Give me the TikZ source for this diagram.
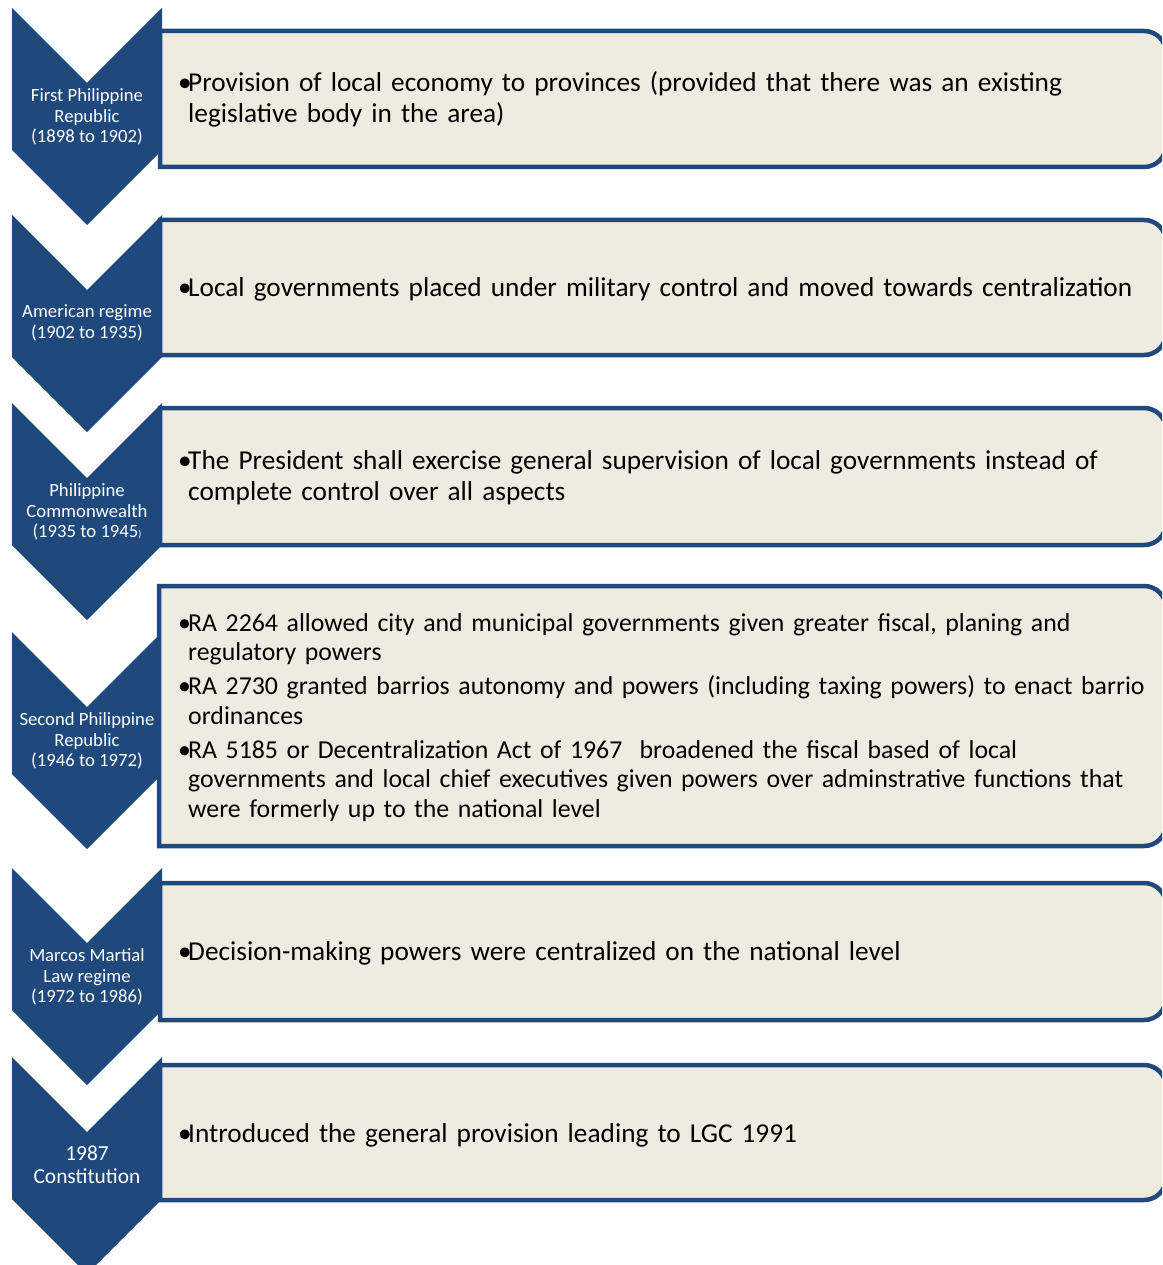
\documentclass[tikz,border=0pt]{standalone}
\usepackage{fontspec}
\setmainfont{Carlito}
\usepackage{tikz}
\usetikzlibrary{positioning}
\definecolor{eraBlue}{RGB}{31,73,125}
\definecolor{eraTan}{RGB}{238,236,225}
\newcommand{\erapoint}[1]{\noindent\hangindent=10pt\hangafter=1\makebox[10pt][l]{\textbullet}#1\par}

\begin{document}
\begin{tikzpicture}[x=1pt, y=-1pt,
    era_arrow/.style={fill=eraBlue, draw=none},
    era_box/.style={fill=eraTan, draw=eraBlue, line width=4.5pt},
    era_label/.style={text=white, align=center, inner sep=0pt, font=\fontsize{18.7}{20.5}\selectfont},
    era_text/.style={anchor=base west, inner sep=0pt, text width=1000pt, align=left, font=\fontsize{27.3}{31}\selectfont}
]
\useasboundingbox (0,0) rectangle (1162,1265);
\clip (0,0) rectangle (1162,1265);

% chevrons down the left side
\fill[era_arrow] (12,8) -- (87,83) -- (162,8) -- (162,150) -- (87,225) -- (12,150) -- cycle;
\fill[era_arrow] (12,215) -- (87,290) -- (162,215) -- (162,357) -- (87,432) -- (12,357) -- cycle;
\fill[era_arrow] (12,403) -- (87,478) -- (162,403) -- (162,545) -- (87,620) -- (12,545) -- cycle;
\fill[era_arrow] (12,632) -- (87,707) -- (162,632) -- (162,774) -- (87,849) -- (12,774) -- cycle;
\fill[era_arrow] (12,868) -- (87,943) -- (162,868) -- (162,1010) -- (87,1085) -- (12,1010) -- cycle;
\fill[era_arrow] (12,1057) -- (87,1132) -- (162,1057) -- (162,1199) -- (87,1274) -- (12,1199) -- cycle;

% boxes on the right
\draw[era_box] (160,31) -- (1144,31) arc[start angle=90, end angle=0, radius=22pt] -- (1166,145) arc[start angle=0, end angle=-90, radius=22pt] -- (160,167) -- cycle;
\draw[era_box] (160,220) -- (1144,220) arc[start angle=90, end angle=0, radius=22pt] -- (1166,333) arc[start angle=0, end angle=-90, radius=22pt] -- (160,355) -- cycle;
\draw[era_box] (160,408) -- (1144,408) arc[start angle=90, end angle=0, radius=22pt] -- (1166,523) arc[start angle=0, end angle=-90, radius=22pt] -- (160,545) -- cycle;
\draw[era_box] (159,586) -- (1144,586) arc[start angle=90, end angle=0, radius=22pt] -- (1166,824) arc[start angle=0, end angle=-90, radius=22pt] -- (159,846) -- cycle;
\draw[era_box] (160,883) -- (1144,883) arc[start angle=90, end angle=0, radius=22pt] -- (1166,998) arc[start angle=0, end angle=-90, radius=22pt] -- (160,1020) -- cycle;
\draw[era_box] (160,1065) -- (1144,1065) arc[start angle=90, end angle=0, radius=22pt] -- (1166,1178) arc[start angle=0, end angle=-90, radius=22pt] -- (160,1200) -- cycle;

% era names
\node[era_label] (first) at (87,117) {First Philippine\\Republic\\(1898 to 1902)};
\node[era_label] (american) at (87,323) {American regime\\(1902 to 1935)};
\node[era_label] (commonwealth) at (87,512) {Philippine\\Commonwealth\\(1935 to 1945{\fontsize{10}{10}\selectfont)}};
\node[era_label] (second) at (87,741) {Second Philippine\\Republic\\(1946 to 1972)};
\node[era_label] (marcos) at (87,977) {Marcos Martial\\Law regime\\(1972 to 1986)};
\node[era_label, font=\fontsize{21.4}{23}\selectfont] (consti) at (87,1165) {1987\\Constitution};

% what happened in each era
\node[era_text] (first_txt) at (178,92) {\erapoint{Provision of local economy to provinces (provided that there was an existing\newline legislative body in the area)}};
\node[era_text] (american_txt) at (178,296) {\erapoint{Local governments placed under military control and moved towards centralization}};
\node[era_text] (commonwealth_txt) at (178,469) {\erapoint{The President shall exercise general supervision of local governments instead of\newline complete control over all aspects}};
\node[era_text, font=\fontsize{25.8}{29.5}\selectfont] (second_txt) at (178,631) {%
  \setlength{\parskip}{4.5pt}%
  \erapoint{RA 2264 allowed city and municipal governments given greater fiscal, planing and\newline regulatory powers}%
  \erapoint{RA 2730 granted barrios autonomy and powers (including taxing powers) to enact barrio\newline ordinances}%
  \erapoint{RA 5185 or Decentralization Act of 1967~ broadened the fiscal based of local\newline governments and local chief executives given powers over adminstrative functions that\newline were formerly up to the national level}};
\node[era_text] (marcos_txt) at (178,960) {\erapoint{Decision-making powers were centralized on the national level}};
\node[era_text] (consti_txt) at (178,1142) {\erapoint{Introduced the general provision leading to LGC 1991}};

\end{tikzpicture}
\end{document}
